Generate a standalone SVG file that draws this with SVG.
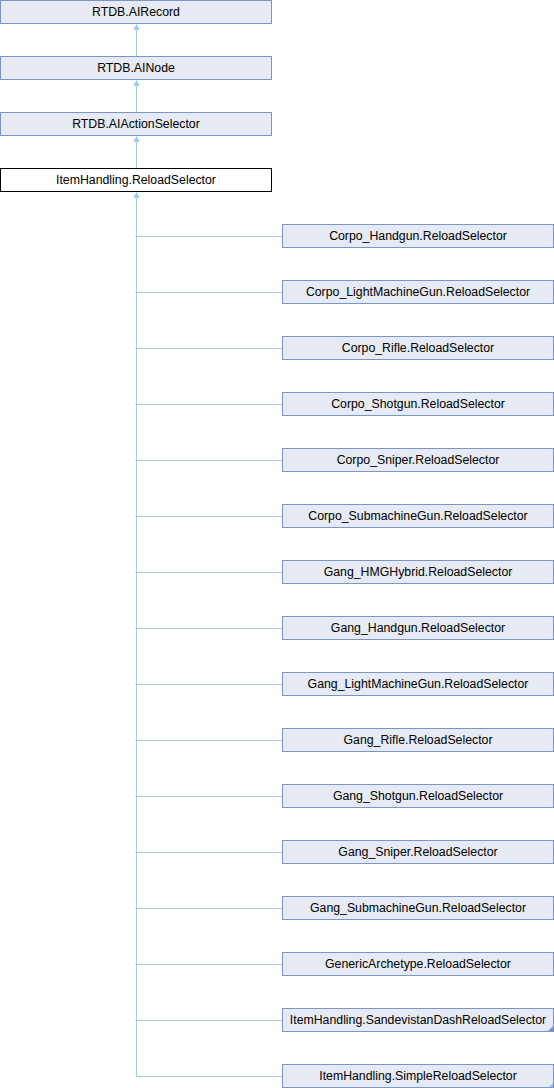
<svg xmlns="http://www.w3.org/2000/svg" width="554" height="1088" viewBox="0 0 554 1088">
<style>
.n{fill:#e6eaf4;stroke:#7c95c9;stroke-width:1}
.cur{fill:#ffffff;stroke:#000000;stroke-width:1}
.t{font-family:"Liberation Sans",Arial,sans-serif;font-size:12.3px;fill:#000;text-anchor:middle}
.e{stroke:#9ccdea;stroke-width:1;fill:none}
.fold{fill:#7c95c9}
</style>
<defs>
<marker id="ah" markerWidth="7" markerHeight="7" refX="3.5" refY="0.5" orient="0" markerUnits="userSpaceOnUse">
<path d="M0.5,5.5 L3.5,0.5 L6.5,5.5 Z" fill="#9ccdea" stroke="#9ccdea" stroke-width="0.5"/>
</marker>
</defs>
<g id="connectors">
<line class="e" x1="136.5" y1="56" x2="136.5" y2="24.5" marker-end="url(#ah)"/>
<line class="e" x1="136.5" y1="112" x2="136.5" y2="80.5" marker-end="url(#ah)"/>
<line class="e" x1="136.5" y1="168" x2="136.5" y2="136.5" marker-end="url(#ah)"/>
<line class="e" x1="136.5" y1="1076.5" x2="136.5" y2="192.5" marker-end="url(#ah)"/>
<path class="e" d="M136.5,236.5H282 M136.5,292.5H282 M136.5,348.5H282 M136.5,404.5H282 M136.5,460.5H282 M136.5,516.5H282 M136.5,572.5H282 M136.5,628.5H282 M136.5,684.5H282 M136.5,740.5H282 M136.5,796.5H282 M136.5,852.5H282 M136.5,908.5H282 M136.5,964.5H282 M136.5,1020.5H282 M136.5,1076.5H282"/>
</g>
<g id="RTDB.AIRecord"><rect class="n" x="0.5" y="0.5" width="271" height="23"/><text class="t" x="136" y="16">RTDB.AIRecord</text></g>
<g id="RTDB.AINode"><rect class="n" x="0.5" y="56.5" width="271" height="23"/><text class="t" x="136" y="72">RTDB.AINode</text></g>
<g id="RTDB.AIActionSelector"><rect class="n" x="0.5" y="112.5" width="271" height="23"/><text class="t" x="136" y="128">RTDB.AIActionSelector</text></g>
<g id="ItemHandling.ReloadSelector"><rect class="cur" x="0.5" y="168.5" width="271" height="23"/><text class="t" x="136" y="184">ItemHandling.ReloadSelector</text></g>
<g id="Corpo_Handgun.ReloadSelector"><rect class="n" x="282.5" y="224.5" width="271" height="23"/><text class="t" x="418" y="240">Corpo_Handgun.ReloadSelector</text></g>
<g id="Corpo_LightMachineGun.ReloadSelector"><rect class="n" x="282.5" y="280.5" width="271" height="23"/><text class="t" x="418" y="296">Corpo_LightMachineGun.ReloadSelector</text></g>
<g id="Corpo_Rifle.ReloadSelector"><rect class="n" x="282.5" y="336.5" width="271" height="23"/><text class="t" x="418" y="352">Corpo_Rifle.ReloadSelector</text></g>
<g id="Corpo_Shotgun.ReloadSelector"><rect class="n" x="282.5" y="392.5" width="271" height="23"/><text class="t" x="418" y="408">Corpo_Shotgun.ReloadSelector</text></g>
<g id="Corpo_Sniper.ReloadSelector"><rect class="n" x="282.5" y="448.5" width="271" height="23"/><text class="t" x="418" y="464">Corpo_Sniper.ReloadSelector</text></g>
<g id="Corpo_SubmachineGun.ReloadSelector"><rect class="n" x="282.5" y="504.5" width="271" height="23"/><text class="t" x="418" y="520">Corpo_SubmachineGun.ReloadSelector</text></g>
<g id="Gang_HMGHybrid.ReloadSelector"><rect class="n" x="282.5" y="560.5" width="271" height="23"/><text class="t" x="418" y="576">Gang_HMGHybrid.ReloadSelector</text></g>
<g id="Gang_Handgun.ReloadSelector"><rect class="n" x="282.5" y="616.5" width="271" height="23"/><text class="t" x="418" y="632">Gang_Handgun.ReloadSelector</text></g>
<g id="Gang_LightMachineGun.ReloadSelector"><rect class="n" x="282.5" y="672.5" width="271" height="23"/><text class="t" x="418" y="688">Gang_LightMachineGun.ReloadSelector</text></g>
<g id="Gang_Rifle.ReloadSelector"><rect class="n" x="282.5" y="728.5" width="271" height="23"/><text class="t" x="418" y="744">Gang_Rifle.ReloadSelector</text></g>
<g id="Gang_Shotgun.ReloadSelector"><rect class="n" x="282.5" y="784.5" width="271" height="23"/><text class="t" x="418" y="800">Gang_Shotgun.ReloadSelector</text></g>
<g id="Gang_Sniper.ReloadSelector"><rect class="n" x="282.5" y="840.5" width="271" height="23"/><text class="t" x="418" y="856">Gang_Sniper.ReloadSelector</text></g>
<g id="Gang_SubmachineGun.ReloadSelector"><rect class="n" x="282.5" y="896.5" width="271" height="23"/><text class="t" x="418" y="912">Gang_SubmachineGun.ReloadSelector</text></g>
<g id="GenericArchetype.ReloadSelector"><rect class="n" x="282.5" y="952.5" width="271" height="23"/><text class="t" x="418" y="968">GenericArchetype.ReloadSelector</text></g>
<g id="ItemHandling.SandevistanDashReloadSelector"><rect class="n" x="282.5" y="1008.5" width="271" height="23"/><path class="fold" d="M553,1026 L553,1031 L548,1031 Z"/><text class="t" x="418" y="1024">ItemHandling.SandevistanDashReloadSelector</text></g>
<g id="ItemHandling.SimpleReloadSelector"><rect class="n" x="282.5" y="1064.5" width="271" height="23"/><path class="fold" d="M553,1083 L553,1087 L549,1087 Z" opacity="0.6"/><text class="t" x="418" y="1080">ItemHandling.SimpleReloadSelector</text></g>
</svg>
